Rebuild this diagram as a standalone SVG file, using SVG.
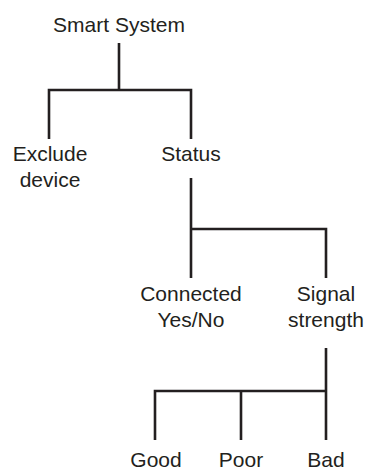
<svg xmlns="http://www.w3.org/2000/svg" width="366" height="470" viewBox="0 0 366 470">
<style>
text{font-family:"Liberation Sans",Arial,sans-serif;font-size:21px;fill:#231f20;text-anchor:middle}
.c{fill:none;stroke:#231f20;stroke-width:2.6;stroke-linecap:butt;stroke-linejoin:miter}
</style>
<rect width="366" height="470" fill="#fff"/>
<g id="connectors">
<path class="c" d="M119 43V90M49 139V90H191V139"/>
<path class="c" d="M191 178V278M191 229H326V278"/>
<path class="c" d="M326 348V440M155 440V391H326M241 391V440"/>
</g>
<g id="smart-system"><text x="119" y="32">Smart System</text></g>
<g id="exclude-device"><text x="50" y="161">Exclude</text><text x="50" y="187">device</text></g>
<g id="status"><text x="191" y="161">Status</text></g>
<g id="connected"><text x="191" y="301">Connected</text><text x="191" y="327">Yes/No</text></g>
<g id="signal-strength"><text x="326" y="301">Signal</text><text x="326" y="327">strength</text></g>
<g id="good"><text x="156" y="467">Good</text></g>
<g id="poor"><text x="241" y="467">Poor</text></g>
<g id="bad"><text x="326" y="467">Bad</text></g>
</svg>
